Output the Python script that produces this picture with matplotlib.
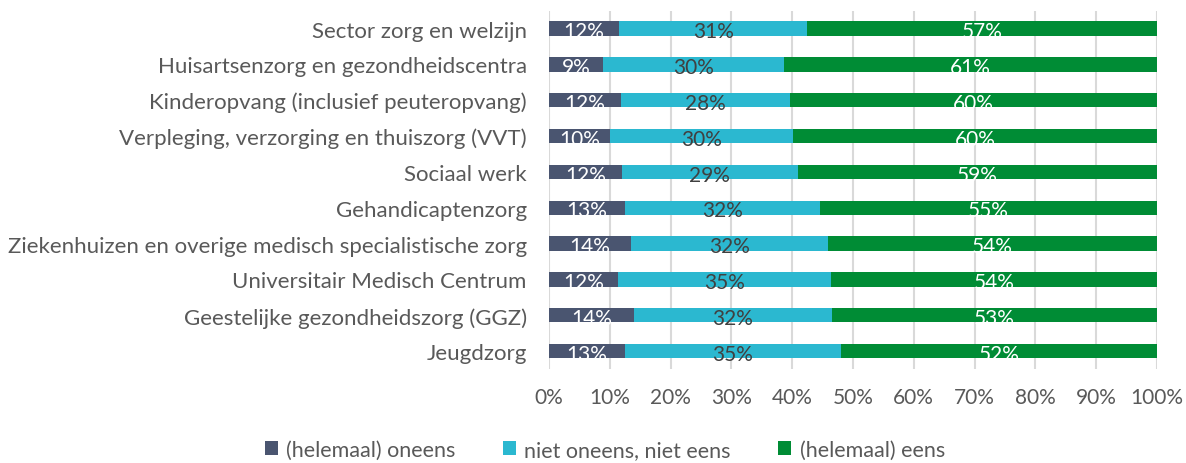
import numpy as np
import matplotlib.pyplot as plt

plt.rcParams['font.family'] = ['Lato', 'DejaVu Sans']

categories = ['Sector zorg en welzijn',
              'Huisartsenzorg en gezondheidscentra',
              'Kinderopvang (inclusief peuteropvang)',
              'Verpleging, verzorging en thuiszorg (VVT)',
              'Sociaal werk',
              'Gehandicaptenzorg',
              'Ziekenhuizen en overige medisch specialistische zorg',
              'Universitair Medisch Centrum',
              'Geestelijke gezondheidszorg (GGZ)',
              'Jeugdzorg']
oneens = [11.5, 8.9, 11.9, 10.0, 12.0, 12.5, 13.5, 11.4, 14.0, 12.5]
neutraal = [31.0, 29.8, 27.7, 30.1, 28.9, 32.0, 32.4, 35.0, 32.5, 35.5]
eens = [57.5, 61.3, 60.4, 59.9, 59.1, 55.5, 54.1, 53.6, 53.5, 52.0]
lbl_oneens = ['12%', '9%', '12%', '10%', '12%', '13%', '14%', '12%', '14%', '13%']
lbl_neutraal = ['31%', '30%', '28%', '30%', '29%', '32%', '32%', '35%', '32%', '35%']
lbl_eens = ['57%', '61%', '60%', '60%', '59%', '55%', '54%', '54%', '53%', '52%']
series_names = ['(helemaal) oneens', 'niet oneens, niet eens', '(helemaal) eens']
colors = ['#4a5570', '#2bb8d0', '#008c35']
txt_colors = ['white', '#404040', 'white']

fig = plt.figure(figsize=(11.86, 4.64), dpi=100)
ax = fig.add_axes([0.4629, 0.2026, 0.5126, 0.7724])

y = np.arange(len(categories))
left = np.zeros(len(categories))
for vals, labels, col, tcol, name in zip([oneens, neutraal, eens],
                                         [lbl_oneens, lbl_neutraal, lbl_eens],
                                         colors, txt_colors, series_names):
    bars = ax.barh(y, vals, left=left, height=0.4, color=col, label=name, zorder=3)
    txts = ax.bar_label(bars, labels=labels, label_type='center', color=tcol,
                        fontsize=15, padding=0, zorder=4)
    for t in txts:
        t.set_y(t.get_position()[1] - 2)  # excel zet de labels iets lager
    left = left + np.array(vals)

ax.set_xlim(0, 100)
ax.set_ylim(len(categories) - 0.5, -0.5)
ax.set_yticks(y)
ax.set_yticklabels(categories, fontsize=16, color='#595959')
ax.set_xticks(np.arange(0, 101, 10))
ax.set_xticklabels([f'{v}%' for v in range(0, 101, 10)], fontsize=15, color='#595959')
ax.tick_params(length=0)
ax.tick_params(axis='y', pad=16)
ax.tick_params(axis='x', pad=13)
ax.grid(axis='x', color='#d9d9d9', linewidth=1.5, zorder=0)
for s in ax.spines.values():
    s.set_visible(False)

fig.legend(loc='lower center', ncol=3, frameon=False, fontsize=15.5,
           bbox_to_anchor=(0.51, -0.035), handlelength=0.6, handleheight=0.6,
           columnspacing=2.2, handletextpad=0.4, labelcolor='#595959')

fig.savefig('out.png', dpi=100)
